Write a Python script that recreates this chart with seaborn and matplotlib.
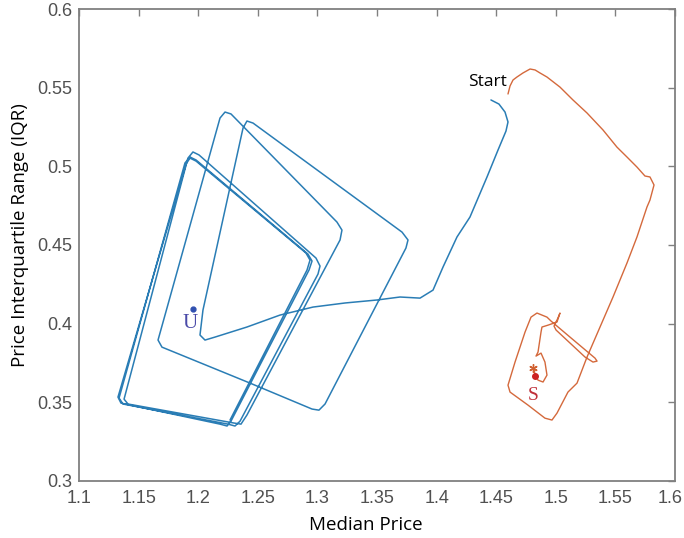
import numpy as np
import pandas as pd
import matplotlib
matplotlib.use("Agg")
import matplotlib.pyplot as plt
import matplotlib.transforms as mtransforms
import seaborn as sns

# ---------------- data ----------------
blue_x = [1.4456, 1.4523, 1.4574, 1.4599, 1.4582, 1.4515, 1.4423, 1.4280, 1.4171, 1.4054,
          1.3970, 1.3861, 1.3693, 1.3500, 1.3232, 1.2963, 1.2686, 1.2409, 1.2141, 1.2057,
          1.2015, 1.2040, 1.2376, 1.2409, 1.2460, 1.3710, 1.3760, 1.3743, 1.3064, 1.3013,
          1.2955, 1.2435, 1.1696, 1.1663, 1.2183, 1.2225, 1.2275, 1.3164, 1.3206, 1.3190,
          1.2409, 1.2359, 1.2300, 1.1411, 1.1378, 1.1914, 1.1956, 1.2007, 1.2988, 1.3022,
          1.3005, 1.2351, 1.2309, 1.2250, 1.1369, 1.1336, 1.1889, 1.1931, 1.1982, 1.2921,
          1.2955, 1.2930, 1.2275, 1.2242, 1.2183, 1.1352, 1.1327, 1.1898, 1.1931, 1.1982,
          1.2904, 1.2938, 1.2913, 1.2267]
blue_y = [0.5423, 0.5397, 0.5346, 0.5283, 0.5225, 0.5104, 0.4933, 0.4678, 0.4551, 0.4360,
          0.4213, 0.4162, 0.4169, 0.4150, 0.4131, 0.4105, 0.4054, 0.3978, 0.3914, 0.3895,
          0.3927, 0.4086, 0.5244, 0.5289, 0.5276, 0.4582, 0.4532, 0.4481, 0.3488, 0.3449,
          0.3456, 0.3621, 0.3850, 0.3895, 0.5308, 0.5346, 0.5334, 0.4646, 0.4595, 0.4532,
          0.3418, 0.3360, 0.3367, 0.3488, 0.3519, 0.5053, 0.5092, 0.5073, 0.4417, 0.4366,
          0.4315, 0.3379, 0.3348, 0.3360, 0.3488, 0.3526, 0.5022, 0.5060, 0.5041, 0.4442,
          0.4398, 0.4341, 0.3379, 0.3348, 0.3360, 0.3494, 0.3532, 0.5015, 0.5053, 0.5034,
          0.4449, 0.4404, 0.4341, 0.3386]

orange_x = [1.4599, 1.4616, 1.4641, 1.4674, 1.4725, 1.4784, 1.4826, 1.4867, 1.4926, 1.5035,
            1.5144, 1.5262, 1.5396, 1.5513, 1.5597, 1.5681, 1.5748, 1.5790, 1.5824, 1.5790,
            1.5765, 1.5681, 1.5597, 1.5480, 1.5371, 1.5262, 1.5178, 1.5102, 1.5010, 1.4968,
            1.4909, 1.4767, 1.4616, 1.4599, 1.4658, 1.4742, 1.4792, 1.4842, 1.4926, 1.4960,
            1.5119, 1.5329, 1.5346, 1.5312, 1.5245, 1.5002, 1.4985, 1.5018, 1.5035, 1.5010,
            1.4935, 1.4884, 1.4876, 1.4851, 1.4834, 1.4876, 1.4909, 1.4926, 1.4893, 1.4851,
            1.4826, 1.4817]
orange_y = [0.5461, 0.5512, 0.5550, 0.5569, 0.5595, 0.5620, 0.5614, 0.5595, 0.5569, 0.5505,
            0.5423, 0.5340, 0.5232, 0.5123, 0.5060, 0.4996, 0.4939, 0.4933, 0.4882, 0.4786,
            0.4742, 0.4551, 0.4385, 0.4169, 0.3978, 0.3787, 0.3621, 0.3564, 0.3430, 0.3386,
            0.3398, 0.3481, 0.3564, 0.3608, 0.3755, 0.3946, 0.4041, 0.4067, 0.4041, 0.4016,
            0.3914, 0.3780, 0.3761, 0.3755, 0.3787, 0.3959, 0.3984, 0.4035, 0.4067, 0.4010,
            0.3990, 0.3978, 0.3946, 0.3819, 0.3793, 0.3812, 0.3755, 0.3672, 0.3628, 0.3640,
            0.3672, 0.3716]

unstable_pt = (1.1956, 0.4092)
unstable_lbl = (1.1931, 0.4003)
stable_pt = (1.4826, 0.3666)
stable_star = (1.4809, 0.3716)
stable_lbl = (1.4809, 0.3544)
start_lbl = (1.4591, 0.5537)

x_ticks = [1.1, 1.15, 1.2, 1.25, 1.3, 1.35, 1.4, 1.45, 1.5, 1.55, 1.6]
x_tick_labels = ["1.1", "1.15", "1.2", "1.25", "1.3", "1.35", "1.4", "1.45", "1.5", "1.55", "1.6"]
y_ticks = [0.3, 0.35, 0.4, 0.45, 0.5, 0.55, 0.6]
y_tick_labels = ["0.3", "0.35", "0.4", "0.45", "0.5", "0.55", "0.6"]

# ---------------- style ----------------
sns.set_theme(style="white")
plt.rcParams['font.family'] = ['Liberation Sans', 'DejaVu Sans']

fig = plt.figure(figsize=(6.84, 5.38), dpi=100)
ax = fig.add_axes([79 / 684, 1 - 480.7 / 538, 596 / 684, 471.4 / 538])

df_blue = pd.DataFrame({"x": blue_x, "y": blue_y})
df_orange = pd.DataFrame({"x": orange_x, "y": orange_y})

sns.lineplot(data=df_blue, x="x", y="y", sort=False, estimator=None,
             color="#2a7db5", linewidth=1.1, ax=ax)
sns.lineplot(data=df_orange, x="x", y="y", sort=False, estimator=None,
             color="#d4693c", linewidth=1.0, ax=ax)

# equilibrium markers
ax.plot([unstable_pt[0]], [unstable_pt[1]], 'o', color="#3050b0", markersize=3.5)
ax.text(unstable_lbl[0], unstable_lbl[1], "U", family=["Liberation Serif", "DejaVu Serif"],
        fontsize=15, color="#4a4aa8", ha="center", va="center")
ax.plot([stable_star[0]], [stable_star[1]], marker=(6, 2, 0), color="#d06030",
        markersize=6, markeredgewidth=1.0)
ax.plot([stable_pt[0]], [stable_pt[1]], 'o', color="#cc2222", markersize=4)
ax.text(stable_lbl[0], stable_lbl[1], "S", family=["Liberation Serif", "DejaVu Serif"],
        fontsize=14, color="#c0303a", ha="center", va="center")
ax.text(start_lbl[0], start_lbl[1], "Start", family=["Open Sans", "DejaVu Sans"],
        fontsize=12.5, color="black", ha="right", va="center")

ax.set_xlim(1.1, 1.6)
ax.set_ylim(0.3, 0.6)
ax.set_xticks(x_ticks)
ax.set_xticklabels(x_tick_labels)
ax.set_yticks(y_ticks)
ax.set_yticklabels(y_tick_labels)

for s in ax.spines.values():
    s.set_visible(True)
    s.set_color("#808080")
    s.set_linewidth(1.3)

ax.tick_params(axis="both", which="both", direction="in", top=True, right=True,
               length=5, width=1.0, color="#808080", labelsize=13, labelcolor="#505050")
ax.tick_params(axis="x", pad=7)
ax.tick_params(axis="y", pad=5)

# keep the last x tick label inside the figure edge
last_lbl = ax.get_xticklabels()[-1]
last_lbl.set_horizontalalignment("right")
last_lbl.set_transform(last_lbl.get_transform() +
                       mtransforms.ScaledTranslation(8 / 100, 0, fig.dpi_scale_trans))

ax.set_xlabel("Median Price", family=["Open Sans", "DejaVu Sans"], fontsize=13.5, color="black")
ax.set_ylabel("Price Interquartile Range (IQR)", family=["Open Sans", "DejaVu Sans"],
              fontsize=13.5, color="black")
ax.xaxis.set_label_coords(0.4815, -0.093)
ax.xaxis.label.set_va("center")
ax.yaxis.set_label_coords(-0.099, 0.521)
ax.yaxis.label.set_va("center")

fig.savefig("out.png", dpi=100)
